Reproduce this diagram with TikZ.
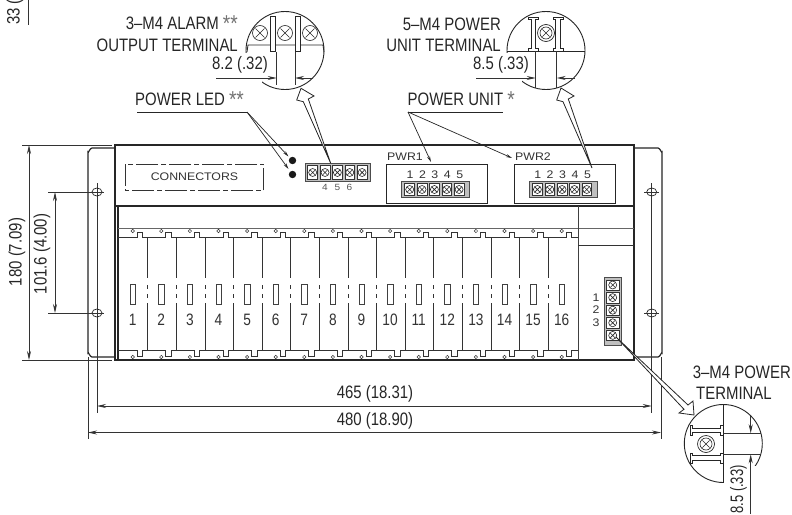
\documentclass[tikz,border=0pt]{standalone}
\usepackage{fontspec}
\setmainfont[FakeStretch=0.83]{Liberation Sans}
\newfontfamily\widef[FakeStretch=1.12]{Liberation Sans}
\usetikzlibrary{arrows.meta}
\tikzset{
  x=1pt,y=-1pt,
  hv/.style={line width=1.2pt,draw=black!85},
  med/.style={line width=0.9pt,draw=black!80},
  thin1/.style={line width=0.7pt,draw=black!80},
  leader/.style={line width=0.7pt,draw=black!85},
  dim/.style={line width=0.8pt,draw=black!80,{Stealth[length=9pt,width=4pt]}-{Stealth[length=9pt,width=4pt]}},
  dimr/.style={line width=0.8pt,draw=black!80,-{Stealth[length=9pt,width=4pt]}},
  txt/.style={inner sep=0pt,font=\fontsize{18}{18}\selectfont,text=black!85},
  cnum/.style={inner sep=0pt,font=\fontsize{16.5}{16.5}\selectfont,text=black!80},
  small/.style={inner sep=0pt,font=\widef\fontsize{11}{11}\selectfont,text=black!80},
  tiny1/.style={inner sep=0pt,font=\widef\fontsize{9}{9}\selectfont,text=black!65},
}
\newcommand{\stars}[1]{{\color{black!55}\fontsize{23}{23}\selectfont\raisebox{-2.5pt}{#1}}}
\newcommand{\screwmark}[3]{% x y r
  \draw[line width=0.6pt,draw=black!85,fill=white] ({#1},{#2}) circle[radius=#3];
  \draw[line width=0.6pt,draw=black!85] ({#1-0.6*#3},{#2-0.6*#3})--({#1+0.6*#3},{#2+0.6*#3}) ({#1-0.6*#3},{#2+0.6*#3})--({#1+0.6*#3},{#2-0.6*#3});
}
\newcommand{\hstrip}[5]{% x0 y0 x1 y1 firstsep (screws 5)
  \draw[line width=0.5pt,draw=black!70,fill=black!25] (#1,#2) rectangle (#3,#4);
  \foreach \k in {0,...,4}{
    \fill[white] ({#5+12.35*\k+1.2},{#2+2}) rectangle ({#5+12.35*\k+11.1},{#4-2});
    \draw[line width=0.5pt,draw=black!80] ({#5+12.35*\k+1.2},{#2+2}) rectangle ({#5+12.35*\k+11.1},{#4-2});
    \screwmark{#5+12.35*\k+6.2}{(#2+#4)/2}{4}
  }
}
\begin{document}
\begin{tikzpicture}
\useasboundingbox (0,0) rectangle (792,514);
\clip (0,0) rectangle (792,514);
\fill[white] (0,0) rectangle (792,514);

% clipped dimension at the top left
\node[txt,rotate=90,anchor=west] (d33) at (15,25) {33 (};
\draw[thin1] (28.5,0)--(28.5,25);

% ears
\draw[hv] (115,148)--(92,148) to[out=180,in=-90] (88,152)--(88,353) to[out=90,in=180] (92,357)--(115,357);
\draw[hv] (634,148)--(658,148) to[out=0,in=-90] (662,152)--(662,353) to[out=90,in=0] (658,357)--(634,357);

% main case
\draw[line width=1.3pt,draw=black!85] (115,145) rectangle (634,360);
\draw[line width=1.3pt,draw=black!85] (115,206)--(634,206);
\draw[line width=1.1pt,draw=black!85] (118,206)--(118,360);
\draw[med,draw=black!60] (118,228)--(634,228);
\draw[line width=1pt,draw=black!75] (578,206)--(578,360);
\draw[med] (578,245)--(634,245);

% card rack
\draw[med] (118,237.7)
 \foreach \i in {0,...,15}{ -- ({137.3+28.6*\i},237.7) -- ({137.3+28.6*\i},232) -- ({142.7+28.6*\i},232) -- ({142.7+28.6*\i},237.7)} -- (578,237.7);
\draw[med] (118,350)
 \foreach \i in {0,...,15}{ -- ({137.3+28.6*\i},350) -- ({137.3+28.6*\i},356) -- ({142.7+28.6*\i},356) -- ({142.7+28.6*\i},350)} -- (578,350);
\foreach \i [evaluate=\i as \n using int(\i+1)] in {0,...,15}{
  \draw[line width=0.5pt,draw=black!80] ({132.7+28.6*\i},231) circle[radius=1.7];
  \draw[line width=0.5pt,draw=black!80,fill=white] ({132.7+28.6*\i},357) circle[radius=1.7];
  \draw[line width=0.6pt,draw=black!75] ({130+28.6*\i},284) rectangle ({135.4+28.6*\i},304);
  \node[cnum] (card\n) at ({132.7+28.6*\i},320) {\n};
}
\foreach \i in {0,...,14}{
  \draw[line width=0.6pt,draw=black!80] ({147.7+28.6*\i},237.7)--({147.7+28.6*\i},278)
     ({147.7+28.6*\i},285)--({147.7+28.6*\i},289)
     ({147.7+28.6*\i},294)--({147.7+28.6*\i},298)
     ({147.7+28.6*\i},303)--({147.7+28.6*\i},350);
}

% connectors
\draw[line width=0.6pt,draw=black!80,dash pattern=on 22pt off 3pt on 5pt off 3pt] (125.7,164) rectangle (263.7,190.7);
\node[small] (conn) at (194.5,177) {CONNECTORS};

% LEDs
\fill[black!90] (292.5,160.5) coordinate (led1) circle[radius=3.7];
\fill[black!90] (292.5,174.5) coordinate (led2) circle[radius=3.7];

% alarm strip
\hstrip{305}{163.5}{370.7}{181.5}{306.5}
\node[tiny1] (a4) at (325,187.5) {4};
\node[tiny1] (a5) at (337.5,187.5) {5};
\node[tiny1] (a6) at (349.5,187.5) {6};

% PWR boxes
\draw[line width=0.9pt,draw=black!85] (386,164) rectangle (487.3,203.3);
\draw[line width=0.9pt,draw=black!85] (514,164) rectangle (615,203.3);
\node[small,anchor=west] (pwr1) at (387,156.5) {PWR1};
\node[small,anchor=west] (pwr2) at (515,156.5) {PWR2};
\foreach \k [evaluate=\k as \m using int(\k+1)] in {0,...,4}{
  \node[small] at ({410+12.45*\k},174.5) {\m};
  \node[small] at ({537.7+12.45*\k},174.5) {\m};
}
\hstrip{401.7}{181.5}{469.3}{197.5}{403.5}
\hstrip{529.2}{181.5}{597}{197.5}{531.2}

% side strip
\draw[line width=0.5pt,draw=black!70,fill=black!25] (604,277.3) rectangle (621,345);
\foreach \k in {0,...,4}{
  \fill[white] (606,{279.8+12.6*\k}) rectangle (619,{290.2+12.6*\k});
  \draw[line width=0.5pt,draw=black!80] (606,{279.8+12.6*\k}) rectangle (619,{290.2+12.6*\k});
  \screwmark{612.7}{285+12.6*\k}{4}
}
\node[small] (s1) at (596,298) {1};
\node[small] (s2) at (596,310) {2};
\node[small] (s3) at (596,323) {3};

% holes and centre lines
\draw[thin1] (97,183)--(97,412.7);
\draw[thin1] (651.7,183)--(651.7,412.7);
\draw[thin1] (88,357)--(88,439);
\draw[thin1] (661,357)--(661,439);
\foreach \x in {97,651.7}{\foreach \y in {192,313}{
  \draw[line width=0.7pt,draw=black!85] (\x,\y) ellipse[x radius=5,y radius=4];
}}
\draw[thin1] (48,192)--(104,192) (48,313)--(104,313);
\draw[thin1] (644,192)--(659,192) (644,313)--(659,313);

% dimensions
\draw[thin1] (22,145)--(112,145) (22,360)--(112,360);
\draw[dim] (29,145)--(29,360);
\draw[dim] (55,192)--(55,313);
\node[txt,rotate=90] (d180) at (17,252) {180 (7.09)};
\node[txt,rotate=90] (d101) at (42,254) {101.6 (4.00)};
\draw[dim] (97,406)--(651.7,406);
\draw[dim] (88,432.5)--(661,432.5);
\node[txt] (d465) at (375,394) {465 (18.31)};
\node[txt] (d480) at (375,420.5) {480 (18.90)};

% leaders
\node[txt,anchor=west] (led) at (135,100) {POWER LED \stars{**}};
\coordinate (ledl) at (137,112); \coordinate (ledr) at (247,112);
\draw[leader] (ledl)--(ledr);
\draw[leader,-{Stealth[length=6pt,width=3pt]}] (ledr)--(288.5,156.5);
\draw[leader,-{Stealth[length=6pt,width=3pt]}] (ledr)--(288.5,169);
\node[txt,anchor=west] (pu) at (407.5,100) {POWER UNIT \stars{*}};
\coordinate (pul) at (408,112); \coordinate (pur) at (503,112);
\draw[leader] (pul)--(pur);
\draw[leader,-{Stealth[length=6pt,width=3pt]}] (pul)--(431,162);
\draw[leader,-{Stealth[length=6pt,width=3pt]}] (pul)--(512,158);

% detail 1
\draw[line width=0.9pt,draw=black!85] (285,50.5) circle[radius=39];
\fill[white] (240,52.5) rectangle (262,83);
\foreach \x in {260,285,310}{\screwmark{\x}{33}{7.5}}
\foreach \x in {272.5,297.5}{\draw[line width=0.8pt,draw=black!85,fill=white] (\x-2.5,16) rectangle (\x+2.5,51.5);}
\draw[line width=0.8pt,draw=black!85] (247,52)--(248,45)--(270,45) (275,45)--(295,45) (300,45)--(323,45)--(324,52);
\draw[thin1] (276.7,52)--(276.7,85) (295,52)--(295,85);
\draw[dimr] (216,78)--(276.7,78);
\draw[dimr] (313,78)--(295,78);
\node[txt,anchor=east] (al1) at (238,24) {3–M4 ALARM \stars{**}};
\node[txt,anchor=east] (al2) at (238,45) {OUTPUT TERMINAL};
\node[txt,anchor=east] (al3) at (268,65) {8.2 (.32)};

% detail 2
\draw[line width=0.9pt,draw=black!85] (546,50.5) circle[radius=39];
\fill[white] (500,52.5) rectangle (522,82);
\draw[line width=0.9pt,draw=black!85] (507,51)--(585,51);
\screwmark{546}{33}{6}
\draw[line width=0.7pt,draw=black!85] (546,33) circle[radius=8.5];
\foreach \x in {533.5,558}{
  \draw[line width=0.8pt,draw=black!85,fill=white] (\x-5,17)--(\x+5,17)--(\x+5,19)--(\x+2.2,19)--(\x+2.2,48)--(\x+5,48)--(\x+5,51)--(\x-5,51)--(\x-5,48)--(\x-2.2,48)--(\x-2.2,19)--(\x-5,19)--cycle;
}
\draw[thin1] (535.7,51)--(535.7,88) (556.7,51)--(556.7,88);
\draw[dimr] (476,78)--(535.7,78);
\draw[dimr] (575,78)--(556.7,78);
\node[txt,anchor=east] (pu1) at (501,24) {5–M4 POWER};
\node[txt,anchor=east] (pu2) at (501,45) {UNIT TERMINAL};
\node[txt,anchor=east] (pu3) at (529,65) {8.5 (.33)};

% detail 3
\draw[line width=0.9pt,draw=black!85] (723.3,443.5) circle[radius=39];
\fill[white] (724,466) rectangle (775,490);
\draw[line width=0.9pt,draw=black!85] (723.3,405)--(723.3,482);
\screwmark{706}{444}{6}
\draw[line width=0.7pt,draw=black!85] (706,444) circle[radius=8.5];
\foreach \y in {430.5,458}{
  \draw[line width=0.8pt,draw=black!85,fill=white] (690,\y-5)--(692.5,\y-5)--(692.5,\y-2.2)--(720,\y-2.2)--(720,\y-5)--(723,\y-5)--(723,\y+5)--(720,\y+5)--(720,\y+2.2)--(692.5,\y+2.2)--(692.5,\y+5)--(690,\y+5)--cycle;
}
\draw[thin1] (723.3,433.3)--(761,433.3) (723.3,454.3)--(761,454.3);
\draw[dimr] (750.7,416)--(750.7,433.3);
\draw[dimr] (750.7,514)--(750.7,454.3);
\node[txt,rotate=90,anchor=east] (pt3) at (738.5,465) {\scalebox{0.87}[1]{8.5 (.33)}};
\node[txt,anchor=east] (pt1) at (791,372) {3–M4 POWER};
\node[txt,anchor=west] (pt2) at (696,393.5) {TERMINAL};

% hollow arrows
\draw[line width=0.8pt,draw=black!85,fill=white,line join=miter] (330.7,163.3)--(303.3,101.7)--(296.7,100)--(301,88.3)--(314,96)--(308.3,99)--cycle;
\draw[line width=0.8pt,draw=black!85,fill=white] (592,168)--(563,101.7)--(556.7,100)--(561,88)--(574,96)--(568.3,99)--cycle;
\draw[line width=0.8pt,draw=black!85,fill=white] (616,337)--(688,405)--(693,401)--(694,415)--(679,413)--(684,409.3)--cycle;
\end{tikzpicture}
\end{document}
